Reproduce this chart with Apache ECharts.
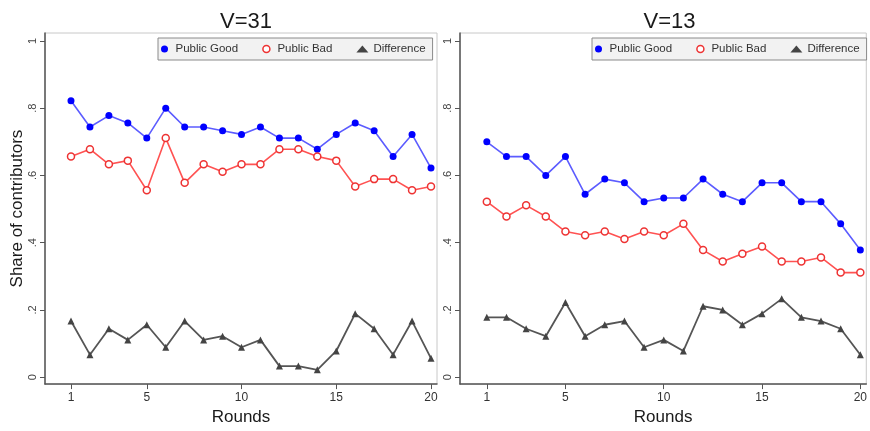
<!DOCTYPE html>
<html>
<head>
<meta charset="utf-8">
<script src="https://cdn.jsdelivr.net/npm/echarts@6/dist/echarts.min.js"></script>
<style>
html,body{margin:0;padding:0;background:#fff;}
#c{width:870px;height:431px;}
</style>
</head>
<body>
<div id="c"></div>
<script>
var rounds = [1,2,3,4,5,6,7,8,9,10,11,12,13,14,15,16,17,18,19,20];
var xTicks = [1,5,10,15,20];
var yTicks = [0,0.2,0.4,0.6,0.8,1];
var yTickLabels = ['0','.2','.4','.6','.8','1'];

// V=31
var goodV31 = [0.822,0.744,0.778,0.756,0.711,0.800,0.744,0.744,0.733,0.722,0.744,0.711,0.711,0.678,0.722,0.756,0.733,0.656,0.722,0.622];
var badV31  = [0.656,0.678,0.633,0.644,0.556,0.711,0.578,0.633,0.611,0.633,0.633,0.678,0.678,0.656,0.644,0.567,0.589,0.589,0.556,0.567];
var diffV31 = [0.167,0.067,0.144,0.111,0.156,0.089,0.167,0.111,0.122,0.089,0.111,0.033,0.033,0.022,0.078,0.189,0.144,0.067,0.167,0.056];

// V=13
var goodV13 = [0.700,0.656,0.656,0.600,0.656,0.544,0.589,0.578,0.522,0.533,0.533,0.589,0.544,0.522,0.578,0.578,0.522,0.522,0.456,0.378];
var badV13  = [0.522,0.478,0.511,0.478,0.433,0.422,0.433,0.411,0.433,0.422,0.456,0.378,0.344,0.367,0.389,0.344,0.344,0.356,0.311,0.311];
var diffV13 = [0.178,0.178,0.144,0.122,0.222,0.122,0.156,0.167,0.089,0.111,0.078,0.211,0.200,0.156,0.189,0.233,0.178,0.167,0.144,0.067];

var panelTitles = ['V=31','V=13'];
var seriesNames = ['Public Good','Public Bad','Difference'];

var FONT = 'Liberation Sans, Arial, sans-serif';
var axisCol = '#555';
var BLUE = '#0000ff', BLUE_LINE = '#5c5cff';
var RED = '#ee3333', RED_LINE = '#ff5252';
var GREY = '#444', GREY_LINE = '#555';

function pairs(vals){ return rounds.map(function(r,i){ return [r, vals[i]]; }); }

var grids = [
  {left:45, top:33, width:392, height:356},
  {left:460, top:33, width:409, height:356}
];
var xRanges = [[-0.372, 20.317],[-0.364, 20.303]];
var suffixes = ['', '\u200b'];

var chart = echarts.init(document.getElementById('c'), null, {renderer:'canvas'});

var option = {
  backgroundColor:'#fff',
  animation:false,
  title: panelTitles.map(function(t,i){
    return {text:t, left: grids[i].left + grids[i].width/2, top:6, textAlign:'center',
      textStyle:{fontFamily:FONT, fontSize:22, fontWeight:'normal', color:'#1a1a1a'}};
  }),
  legend: [0,1].map(function(i){
    var suf = suffixes[i];
    return {
      left: i===0 ? 158 : 592, top:38, width:400,
      orient:'horizontal',
      backgroundColor:'#f2f2f2', borderColor:'#8a8a8a', borderWidth:1,
      padding:[5,7,5,3],
      itemWidth:12, itemHeight:7, itemGap:24,
      textStyle:{fontFamily:FONT, fontSize:11.5, color:'#333'},
      data:[
        {name:seriesNames[0]+suf, icon:'circle', itemStyle:{color:BLUE}},
        {name:seriesNames[1]+suf, icon:'circle', itemStyle:{color:'#fff', borderColor:RED, borderWidth:1.5}},
        {name:seriesNames[2]+suf, icon:'triangle', itemStyle:{color:GREY}}
      ]
    };
  }),
  grid: grids.map(function(g){
    return {left:g.left, top:g.top, width:g.width, height:g.height, show:true, borderColor:'#c8c8c8', borderWidth:1, backgroundColor:'#fff'};
  }),
  xAxis: [0,1].map(function(i){
    return {
      type:'value', gridIndex:i, min:xRanges[i][0], max:xRanges[i][1],
      name:'Rounds', nameLocation:'middle', nameGap:20,
      nameTextStyle:{fontFamily:FONT, fontSize:17, color:'#1a1a1a'},
      axisLine:{show:true, onZero:false, lineStyle:{color:axisCol, width:1.5}},
      axisTick:{show:true, customValues:xTicks, length:5, lineStyle:{color:axisCol, width:1}},
      axisLabel:{customValues:xTicks, margin:8, fontFamily:FONT, fontSize:12, color:'#333',
        formatter:function(v){ return String(v); }},
      splitLine:{show:false}
    };
  }),
  yAxis: [0,1].map(function(i){
    return {
      type:'value', gridIndex:i, min:-0.0205, max:1.0235,
      name: i===0 ? 'Share of contributors' : '', nameLocation:'middle', nameGap:19,
      nameTextStyle:{fontFamily:FONT, fontSize:17, color:'#1a1a1a'},
      axisLine:{show:true, onZero:false, lineStyle:{color:axisCol, width:1.5}},
      axisTick:{show:true, customValues:yTicks, length:5, lineStyle:{color:axisCol, width:1}},
      axisLabel:{customValues:yTicks, rotate:90, margin:7, fontFamily:FONT, fontSize:11, color:'#444',
        formatter:function(v){ var k = yTicks.indexOf(Math.round(v*10)/10); return k>=0 ? yTickLabels[k] : ''; }},
      splitLine:{show:false}
    };
  }),
  series: []
};

var panelData = [[goodV31,badV31,diffV31],[goodV13,badV13,diffV13]];
[0,1].forEach(function(i){
  var suf = suffixes[i];
  option.series.push({
    name:seriesNames[0]+suf, type:'line', xAxisIndex:i, yAxisIndex:i, data:pairs(panelData[i][0]),
    symbol:'circle', symbolSize:7, lineStyle:{color:BLUE_LINE, width:1.6},
    itemStyle:{color:BLUE}, z:3
  });
  option.series.push({
    name:seriesNames[1]+suf, type:'line', xAxisIndex:i, yAxisIndex:i, data:pairs(panelData[i][1]),
    symbol:'circle', symbolSize:7, lineStyle:{color:RED_LINE, width:1.6},
    itemStyle:{color:'#fff', borderColor:RED, borderWidth:1.5}, z:3
  });
  option.series.push({
    name:seriesNames[2]+suf, type:'line', xAxisIndex:i, yAxisIndex:i, data:pairs(panelData[i][2]),
    symbol:'triangle', symbolSize:7, lineStyle:{color:GREY_LINE, width:1.8},
    itemStyle:{color:GREY}, z:3
  });
});

chart.setOption(option);
</script>
</body>
</html>
